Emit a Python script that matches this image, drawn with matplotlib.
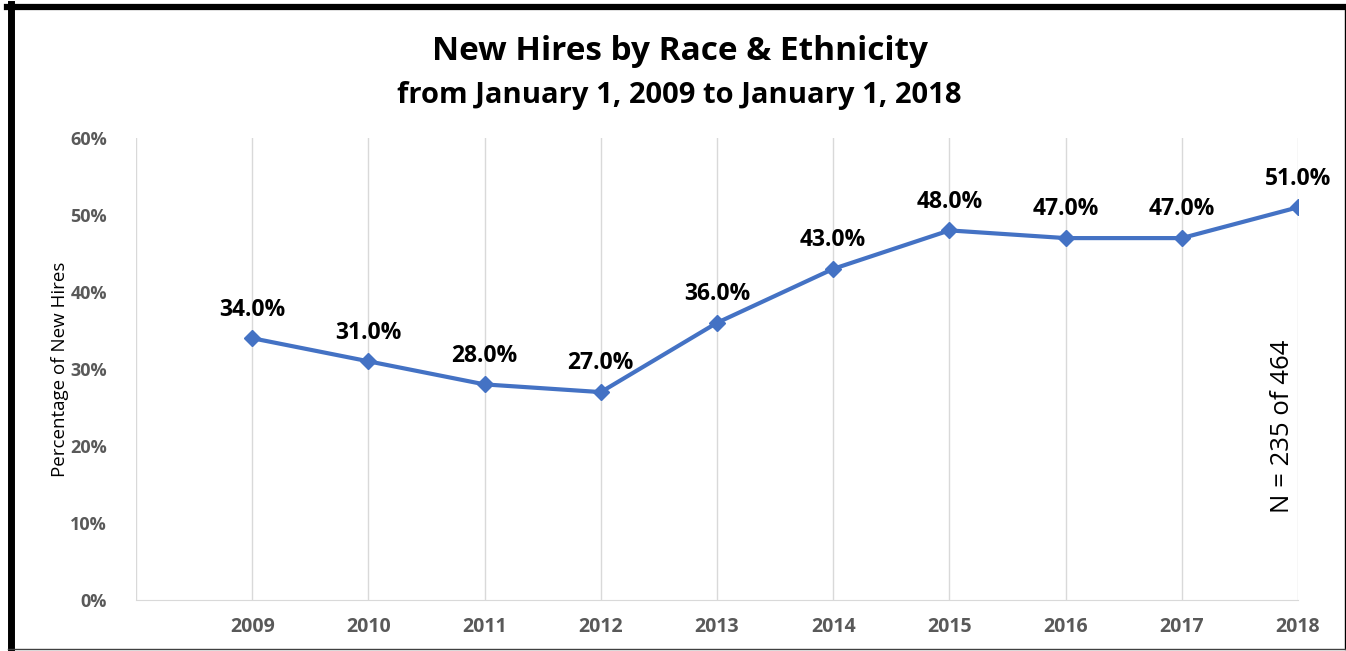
import matplotlib.pyplot as plt
from matplotlib.lines import Line2D
from matplotlib.ticker import PercentFormatter

plt.rcParams['font.family'] = ['Open Sans', 'DejaVu Sans']

# share of new hires per year
years = [2009, 2010, 2011, 2012, 2013, 2014, 2015, 2016, 2017, 2018]
pct = [34.0, 31.0, 28.0, 27.0, 36.0, 43.0, 48.0, 47.0, 47.0, 51.0]
point_labels = ['34.0%', '31.0%', '28.0%', '27.0%', '36.0%', '43.0%', '48.0%', '47.0%', '47.0%', '51.0%']

blue = '#4472C4'
grid_grey = '#D9D9D9'
tick_grey = '#595959'

fig = plt.figure(figsize=(13.46, 6.51), dpi=100)
ax = fig.add_axes([136 / 1346, 51 / 651, 1162 / 1346, 462 / 651])

ax.plot(years, pct, color=blue, linewidth=3, marker='D', markersize=8, zorder=3)

for x, y, lab in zip(years, pct, point_labels):
    ax.annotate(lab, (x, y), xytext=(0, 12), textcoords='offset points',
                ha='center', va='bottom', fontsize=16.5, fontweight='bold', color='black')

ax.set_xlim(2008, 2018)
ax.set_ylim(0, 60)
ax.set_xticks(range(2008, 2019))
ax.set_xticklabels([''] + [str(y) for y in years])
ax.set_yticks(range(0, 61, 10))
ax.yaxis.set_major_formatter(PercentFormatter(decimals=0))
ax.tick_params(axis='both', length=0, labelcolor=tick_grey)
ax.tick_params(axis='x', pad=12, labelsize=14)
ax.tick_params(axis='y', pad=21, labelsize=13)
for lbl in ax.get_xticklabels() + ax.get_yticklabels():
    lbl.set_fontweight('bold')

ax.grid(axis='x', color=grid_grey, linewidth=1)
for side in ['top', 'right', 'left']:
    ax.spines[side].set_visible(False)
ax.spines['bottom'].set_color(grid_grey)

ax.set_ylabel('Percentage of New Hires', fontsize=13.5, color='black')
ax.yaxis.set_label_coords(-67 / 1162, 0.5)

ax.text(2017.87, 22.5, 'N = 235 of 464', rotation=90, ha='center', va='center',
        fontsize=18.5, color='black')

fig.text(0.505, 0.921, 'New Hires by Race & Ethnicity', ha='center', va='center',
         fontsize=24, fontweight='bold')
fig.text(0.505, 0.853, 'from January 1, 2009 to January 1, 2018', ha='center', va='center',
         fontsize=21, fontweight='bold')

# outer frame: heavy top/left edges, thin right/bottom
fig.add_artist(Line2D([7 / 1346, 1346 / 1346], [1 - 7 / 651, 1 - 7 / 651], color='black', linewidth=4.5))
fig.add_artist(Line2D([10.5 / 1346, 10.5 / 1346], [2 / 651, 1 - 4 / 651], color='black', linewidth=5))
fig.add_artist(Line2D([1345 / 1346, 1345 / 1346], [2 / 651, 1 - 8 / 651], color='black', linewidth=1))
fig.add_artist(Line2D([8 / 1346, 1346 / 1346], [2.5 / 651, 2.5 / 651], color='#404040', linewidth=1))

fig.savefig('out.png', dpi=100)
